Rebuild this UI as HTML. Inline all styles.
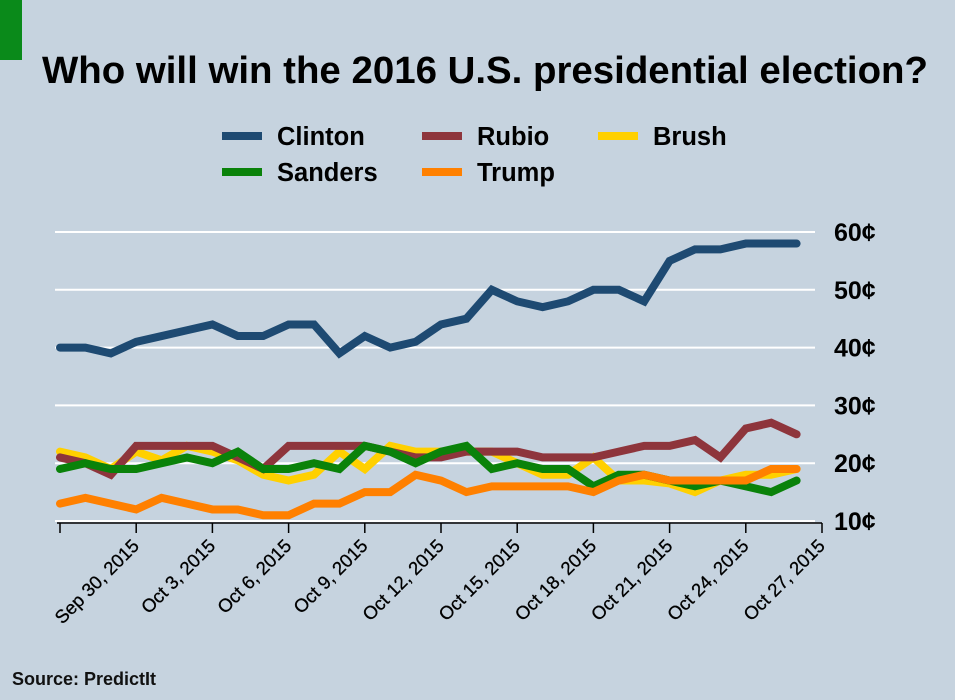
<!DOCTYPE html>
<html><head><meta charset="utf-8"><style>
body{margin:0;background:#c6d3df;}
svg{display:block;font-family:"Liberation Sans",Arial,sans-serif;}
</style></head><body>
<svg id="c" width="955" height="700" viewBox="0 0 955 700">
<rect x="0" y="0" width="955" height="700" fill="#c6d3df"/>
<rect x="0" y="0" width="22" height="60" fill="#0a8a1a"/>
<text x="485" y="83" text-anchor="middle" font-size="38" font-weight="bold" fill="#000" textLength="886" lengthAdjust="spacingAndGlyphs">Who will win the 2016 U.S. presidential election?</text>
<g id="legend"></g>
<g id="grid"></g>
<g id="axes"></g>
<g id="series"></g>
<text x="12" y="685" font-size="18" font-weight="bold" fill="#111">Source: PredictIt</text>
</svg>
<script>
const dayLabels = ["Sep 27, 2015","Sep 30, 2015","Oct 3, 2015","Oct 6, 2015","Oct 9, 2015","Oct 12, 2015","Oct 15, 2015","Oct 18, 2015","Oct 21, 2015","Oct 24, 2015","Oct 27, 2015"];
const yTicks = [10,20,30,40,50,60];
const clinton = [40,40,39,41,42,43,44,42,42,44,44,39,42,40,41,44,45,50,48,47,48,50,50,48,55,57,57,58,58,58];
const rubio = [21,20,18,23,23,23,23,21,19,23,23,23,23,22,21,21,22,22,22,21,21,21,22,23,23,24,21,26,27,25];
const brush = [22,21,19,22,20.5,23,22,20.5,18,17,18,22,19,23,22,22,22,22,20,18,18,21,17,17,16.5,15,17,18,18,19];
const sanders = [19,20,19,19,20,21,20,22,19,19,20,19,23,22,20,22,23,19,20,19,19,16,18,18,17,16,17,16,15,17];
const trump = [13,14,13,12,14,13,12,12,11,11,13,13,15,15,18,17,15,16,16,16,16,15,17,18,17,17,17,17,19,19];
const seriesNames = ["Brush","Rubio","Sanders","Trump","Clinton"];
const seriesData = [brush,rubio,sanders,trump,clinton];
const colors = {Clinton:"#1e4a72",Rubio:"#8e353c",Brush:"#ffd000",Sanders:"#0a820a",Trump:"#ff8000"};
const NS="http://www.w3.org/2000/svg";
const x = d => 60 + d*25.4;
const y = v => 521 - (v-10)*5.78;
function mk(tag, attrs, parent){const e=document.createElementNS(NS,tag);for(const k in attrs)e.setAttribute(k,attrs[k]);parent.appendChild(e);return e;}
const grid=document.getElementById('grid'), axes=document.getElementById('axes'), ser=document.getElementById('series'), leg=document.getElementById('legend');
yTicks.forEach(t=>{
  const l=mk('line',{x1:55,x2:815,y1:y(t),y2:y(t),stroke:"#fff","stroke-width":2},grid);
  
  
  const tx=mk('text',{x:834,y:y(t)+9,"font-size":25,"font-weight":"bold",fill:"#000"},axes);
  tx.textContent=t+"¢";
  
  
});
const ax=mk('line',{x1:57,x2:822,y1:523,y2:523,stroke:"#000","stroke-width":1.5},axes);


dayLabels.forEach((lab,i)=>{
  const xx=x(i*3);
  const tk=mk('line',{x1:xx,x2:xx,y1:523,y2:533,stroke:"#000","stroke-width":1.5},axes);
  
  
  if(i===0) return;
  const t=mk('text',{x:xx+4,y:547,"font-size":18.5,"text-anchor":"end",fill:"#000",stroke:"#000","stroke-width":0.3,transform:`rotate(-45 ${xx+4} 547)`},axes);
  t.textContent=lab;
  
  
});
seriesNames.forEach((n,si)=>{
  const pts=seriesData[si].map((v,i)=>x(i)+","+y(v)).join(" ");
  const p=mk('polyline',{points:pts,fill:"none",stroke:colors[n],"stroke-width":8,"stroke-linejoin":"miter","stroke-linecap":"round"},ser);
  
  
});
const legItems=[["Clinton",222,136],["Rubio",422,136],["Brush",598,136],["Sanders",222,172],["Trump",422,172]];
legItems.forEach(([n,lx,ly])=>{
  const g=mk('g',{},leg);
  
  
  mk('line',{x1:lx,x2:lx+40,y1:ly,y2:ly,stroke:colors[n],"stroke-width":8},g);
  const t=mk('text',{x:lx+55,y:ly+9,"font-size":25.5,"font-weight":"bold",fill:"#000"},g);
  t.textContent=n;
});
</script>
</body></html>
